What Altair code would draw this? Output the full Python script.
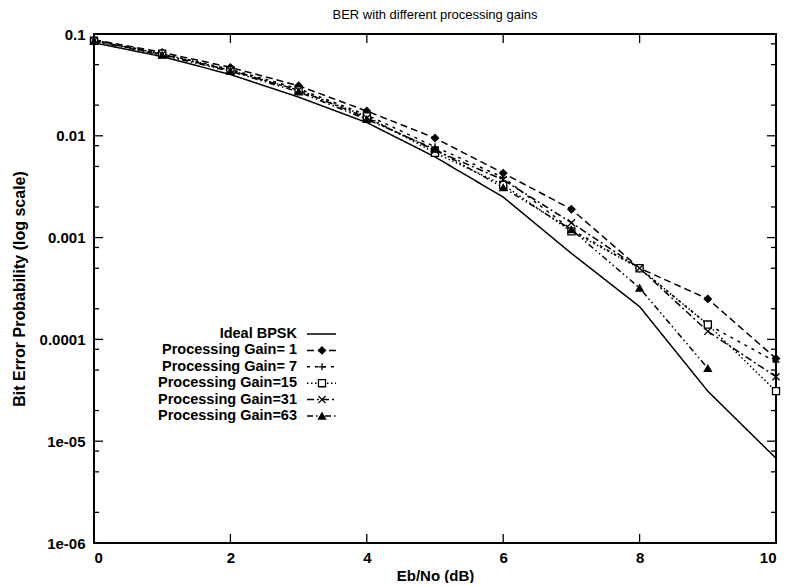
import altair as alt
import pandas as pd

# ---------------- data ----------------
ebno = [0, 1, 2, 3, 4, 5, 6, 7, 8, 9, 10]
ideal_bpsk = [0.082, 0.060, 0.040, 0.024, 0.0135, 0.0062, 0.0025, 0.0007, 0.00021, 0.000031, 0.0000068]
pg_1 = [0.088, 0.066, 0.047, 0.031, 0.0175, 0.0095, 0.0043, 0.0019, 0.0005, 0.00025, 0.000065]
pg_7 = [0.087, 0.064, 0.045, 0.029, 0.016, 0.0078, 0.0039, 0.0012, 0.0005, 0.00014, 0.00006]
pg_15 = [0.086, 0.064, 0.044, 0.028, 0.0155, 0.0068, 0.0033, 0.00115, 0.0005, 0.00014, 0.000031]
pg_31 = [0.086, 0.063, 0.044, 0.028, 0.015, 0.0072, 0.0037, 0.0014, 0.0005, 0.00012, 0.000043]
pg_63 = [0.085, 0.062, 0.043, 0.027, 0.0145, 0.0074, 0.0031, 0.0012, 0.00032, 0.000052]

series_names = ["Ideal BPSK", "Processing Gain= 1", "Processing Gain= 7",
                "Processing Gain=15", "Processing Gain=31", "Processing Gain=63"]
series_values = [ideal_bpsk, pg_1, pg_7, pg_15, pg_31, pg_63]

x_ticks = [0, 2, 4, 6, 8, 10]
y_major_ticks = [0.1, 0.01, 0.001, 0.0001, 0.00001, 0.000001]
y_tick_labels = ["0.1", "0.01", "0.001", "0.0001", "1e-05", "1e-06"]
y_minor_ticks = [m * d for d in [0.01, 0.001, 0.0001, 0.00001, 0.000001] for m in (2, 5, 8)]

# ---------------- styles ----------------
FONT = "Liberation Sans"
W, H = 682, 509
dashes = {
    "Ideal BPSK": [1, 0],
    "Processing Gain= 1": [7, 4],
    "Processing Gain= 7": [3, 5],
    "Processing Gain=15": [1.5, 2.5],
    "Processing Gain=31": [7, 3, 2, 3],
    "Processing Gain=63": [6, 3, 1.5, 3, 1.5, 3],
}
PLUS = "M-1,0L1,0M0,-1L0,1"
CROSS = "M-1,-1L1,1M-1,1L1,-1"
shapes = {
    "Processing Gain= 1": "diamond",
    "Processing Gain= 7": PLUS,
    "Processing Gain=15": "square",
    "Processing Gain=31": CROSS,
    "Processing Gain=63": "triangle-up",
}
fills = {
    "Processing Gain= 1": "black",
    "Processing Gain= 7": "transparent",
    "Processing Gain=15": "white",
    "Processing Gain=31": "transparent",
    "Processing Gain=63": "black",
}

rows = []
for name, vals in zip(series_names, series_values):
    for xv, yv in zip(ebno, vals):
        rows.append({"series": name, "ebno": xv, "ber": yv})
df = pd.DataFrame(rows)
df_pts = df[df.series != "Ideal BPSK"]

xscale = alt.Scale(domain=[0, 10], nice=False)
yscale = alt.Scale(type="log", domain=[1e-6, 0.1], nice=False)

label_expr = "[" + ",".join("'%s'" % l for l in y_tick_labels) + "][round(-log(datum.value)/log(10)) - 1]"

x_axis = alt.Axis(values=x_ticks, format="d", ticks=False, domain=False, grid=False,
                  labelPadding=7, titlePadding=3)
y_axis = alt.Axis(values=y_major_ticks, labelExpr=label_expr, ticks=False, domain=False,
                  grid=False, labelPadding=9, titlePadding=12, titleFontSize=16)
X_TITLE = "Eb/No (dB)"
Y_TITLE = "Bit Error Probability (log scale)"


def X(field):
    return alt.X(field, scale=xscale, title=X_TITLE, axis=x_axis)


def Y(field):
    return alt.Y(field, scale=yscale, title=Y_TITLE, axis=y_axis)


lines = alt.Chart(df).mark_line(strokeWidth=1.5, color="black").encode(
    x=X("ebno:Q"),
    y=Y("ber:Q"),
    strokeDash=alt.StrokeDash("series:N", scale=alt.Scale(domain=series_names,
                                                          range=[dashes[s] for s in series_names]),
                              legend=None),
    detail="series:N",
)

pt_names = series_names[1:]
points = alt.Chart(df_pts).mark_point(size=50, strokeWidth=1.3, opacity=1, stroke="black").encode(
    x=X("ebno:Q"),
    y=Y("ber:Q"),
    shape=alt.Shape("series:N", scale=alt.Scale(domain=pt_names, range=[shapes[s] for s in pt_names]),
                    legend=None),
    fill=alt.Fill("series:N", scale=alt.Scale(domain=pt_names, range=[fills[s] for s in pt_names]),
                  legend=None),
)

# inward ticks
xt = pd.DataFrame({"ebno": x_ticks})
ymaj = pd.DataFrame({"ber": y_major_ticks})
ymin = pd.DataFrame({"ber": y_minor_ticks})
tick_layers = []
for y0, y1 in [(H, H - 9), (0, 9)]:
    tick_layers.append(alt.Chart(xt).mark_rule(color="black", strokeWidth=1.3).encode(
        x=X("ebno:Q"), y=alt.value(y0), y2=alt.value(y1)))
for tdf, ln in [(ymaj, 9), (ymin, 5)]:
    for x0, x1 in [(0, ln), (W, W - ln)]:
        tick_layers.append(alt.Chart(tdf).mark_rule(color="black", strokeWidth=1.3).encode(
            y=Y("ber:Q"), x=alt.value(x0), x2=alt.value(x1)))

# custom legend (labels left of samples, like the original)
leg_df = pd.DataFrame({"series": series_names})
leg_layers = []
for i, name in enumerate(series_names):
    ypx = 300 + 16.4 * i
    base = alt.Chart(leg_df).transform_filter(alt.datum.series == name)
    leg_layers.append(base.mark_text(align="right", baseline="middle", font=FONT, fontSize=14.5,
                                     fontWeight="bold", color="black").encode(
        text="series:N", x=alt.value(203), y=alt.value(ypx)))
    leg_layers.append(base.mark_rule(color="black", strokeWidth=1.5, strokeDash=dashes[name]).encode(
        x=alt.value(213), x2=alt.value(242), y=alt.value(ypx)))
    if name in shapes:
        leg_layers.append(base.mark_point(size=50, strokeWidth=1.3, opacity=1, stroke="black",
                                          shape=shapes[name], fill=fills[name]).encode(
            x=alt.value(228), y=alt.value(ypx)))

chart = alt.layer(lines, points, *tick_layers, *leg_layers).properties(
    width=W, height=H,
    title=alt.TitleParams("BER with different processing gains", font=FONT, fontSize=13,
                          fontWeight="normal", offset=5, anchor="middle"),
    autosize=alt.AutoSizeParams(type="none"),
    padding={"left": 86, "top": 26, "right": 5, "bottom": 40},
).configure(background="white").configure_view(stroke="black", strokeWidth=2).configure_axis(
    labelFont=FONT, titleFont=FONT, labelFontSize=15, titleFontSize=15,
    labelColor="black", titleColor="black", titleFontWeight="bold", labelFontWeight="bold",
)

chart.save("out.html", embed_options={"renderer": "svg", "actions": False})
